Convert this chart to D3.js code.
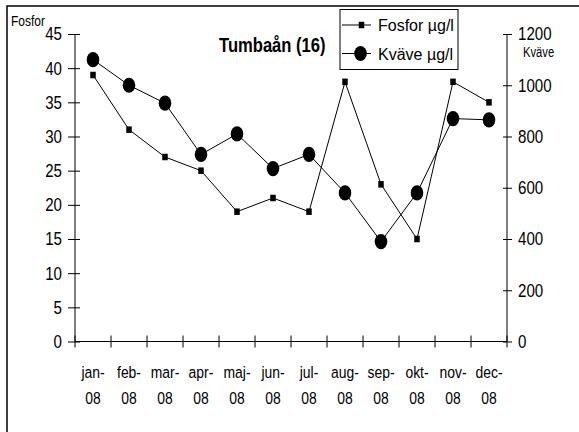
<!DOCTYPE html>
<html>
<head>
<meta charset="utf-8">
<script src="https://cdn.jsdelivr.net/npm/d3@7"></script>
<style>
  html, body { margin: 0; padding: 0; background: #fff; }
  svg { display: block; }
  text { font-family: "Liberation Sans", Arial, sans-serif; fill: #000; }
</style>
</head>
<body>
<svg id="chart" width="579" height="432"></svg>
<script>
// ---- data ----
const months = ["jan-08","feb-08","mar-08","apr-08","maj-08","jun-08","jul-08","aug-08","sep-08","okt-08","nov-08","dec-08"];
const fosfor = [39, 31, 27, 25, 19, 21, 19, 38, 23, 15, 38, 35];
const kvave  = [1100, 1000, 930, 730, 810, 675, 730, 580, 390, 580, 870, 865];
const leftTicks  = [0, 5, 10, 15, 20, 25, 30, 35, 40, 45];
const rightTicks = [0, 200, 400, 600, 800, 1000, 1200];
const title = "Tumbaån (16)";
const leftTitle = "Fosfor";
const rightTitle = "Kväve";
const seriesNames = ["Fosfor µg/l", "Kväve µg/l"];

// ---- layout ----
const svg = d3.select("#chart");
const plotL = 75, plotR = 507, plotT = 34, plotB = 341.5;

const x = d3.scaleBand().domain(months).range([plotL, plotR]).padding(0);
const yL = d3.scaleLinear().domain([0, 45]).range([plotB, plotT]);
const yR = d3.scaleLinear().domain([0, 1200]).range([plotB, plotT]);

// outer border (extends beyond the frame on right/bottom)
svg.append("rect").attr("x", 7).attr("y", 6).attr("width", 700).attr("height", 600)
  .attr("fill", "none").attr("stroke", "#000").attr("stroke-width", 1.5);

const narrow = 0.84;

// left axis
const gL = svg.append("g").attr("transform", `translate(${plotL},0)`)
  .call(d3.axisLeft(yL).tickValues(leftTicks).tickSize(7).tickPadding(0).tickFormat(d3.format("d")));
gL.select(".domain").remove();
gL.selectAll(".tick line").attr("x1", 5).attr("stroke", "#000");
gL.selectAll(".tick text").attr("x", 0).attr("dy", null)
  .attr("font-size", 18).attr("font-family", "Liberation Sans, Arial, sans-serif")
  .attr("text-anchor", "end").attr("dominant-baseline", "central")
  .attr("transform", `translate(-13,0) scale(${narrow},1)`);
svg.append("line").attr("x1", plotL).attr("x2", plotL).attr("y1", plotT).attr("y2", plotB).attr("stroke", "#000");

// right axis
const gR = svg.append("g").attr("transform", `translate(${plotR},0)`)
  .call(d3.axisRight(yR).tickValues(rightTicks).tickSize(5).tickPadding(0).tickFormat(d3.format("d")));
gR.select(".domain").remove();
gR.selectAll(".tick line").attr("x1", -4).attr("stroke", "#000");
gR.selectAll(".tick text").attr("x", 0).attr("dy", null)
  .attr("font-size", 18).attr("font-family", "Liberation Sans, Arial, sans-serif")
  .attr("text-anchor", "start").attr("dominant-baseline", "central")
  .attr("transform", `translate(11,0) scale(${narrow},1)`);
svg.append("line").attr("x1", plotR).attr("x2", plotR).attr("y1", plotT).attr("y2", plotB).attr("stroke", "#000");

// x axis
svg.append("line").attr("x1", plotL).attr("x2", plotR).attr("y1", plotB).attr("y2", plotB).attr("stroke", "#000");
const boundaries = months.map(m => x(m)).concat([plotR]);
svg.append("g").selectAll("line").data(boundaries).join("line")
  .attr("x1", d => d).attr("x2", d => d).attr("y1", plotB - 6).attr("y2", plotB + 6).attr("stroke", "#000");
const xl = svg.append("g").selectAll("text").data(months).join("text")
  .attr("transform", d => `translate(${x(d) + x.bandwidth()/2},0) scale(0.82,1)`)
  .attr("text-anchor", "middle").attr("font-size", 17);
xl.append("tspan").attr("x", 0).attr("y", 378.5).text(d => d.split("-")[0] + "-");
xl.append("tspan").attr("x", 0).attr("y", 404).text(d => d.split("-")[1]);

// axis titles
svg.append("text").attr("transform", `translate(11,26) scale(0.8,1)`).attr("font-size", 15).text(leftTitle);
svg.append("text").attr("transform", `translate(523,57) scale(0.75,1)`).attr("font-size", 15).text(rightTitle);

// chart title
svg.append("text").attr("transform", `translate(219,52) scale(0.83,1)`).attr("font-size", 20)
  .attr("font-weight", "bold").text(title);

// series lines
const cx = d => x(d) + x.bandwidth()/2;
const lineF = d3.line().x((d, i) => cx(months[i])).y(d => yL(d));
const lineK = d3.line().x((d, i) => cx(months[i])).y(d => yR(d));
svg.append("path").attr("d", lineF(fosfor)).attr("fill", "none").attr("stroke", "#000").attr("stroke-width", 1);
svg.append("path").attr("d", lineK(kvave)).attr("fill", "none").attr("stroke", "#000").attr("stroke-width", 1);

const sqW = 5.5, sqH = 6.5, eRx = 6.3, eRy = 7.6;
svg.append("g").selectAll("rect").data(fosfor).join("rect")
  .attr("x", (d, i) => cx(months[i]) - sqW/2).attr("y", d => yL(d) - sqH/2)
  .attr("width", sqW).attr("height", sqH).attr("fill", "#000");
svg.append("g").selectAll("ellipse").data(kvave).join("ellipse")
  .attr("cx", (d, i) => cx(months[i])).attr("cy", d => yR(d))
  .attr("rx", eRx).attr("ry", eRy).attr("fill", "#000");

// legend
const lg = svg.append("g");
lg.append("rect").attr("x", 340).attr("y", 9.5).attr("width", 118).attr("height", 60)
  .attr("fill", "#fff").attr("stroke", "#000").attr("stroke-width", 1);
const ly = [25, 53.5];
seriesNames.forEach((name, i) => {
  lg.append("line").attr("x1", 342).attr("x2", 371).attr("y1", ly[i]).attr("y2", ly[i]).attr("stroke", "#000");
  if (i === 0) {
    lg.append("rect").attr("x", 361.5 - sqW/2).attr("y", ly[i] - sqH/2).attr("width", sqW).attr("height", sqH).attr("fill", "#000");
  } else {
    lg.append("ellipse").attr("cx", 360.5).attr("cy", ly[i]).attr("rx", eRx).attr("ry", eRy).attr("fill", "#000");
  }
  lg.append("text").attr("x", 378).attr("y", ly[i] + 6).attr("font-size", 16).text(name);
});
</script>
</body>
</html>
